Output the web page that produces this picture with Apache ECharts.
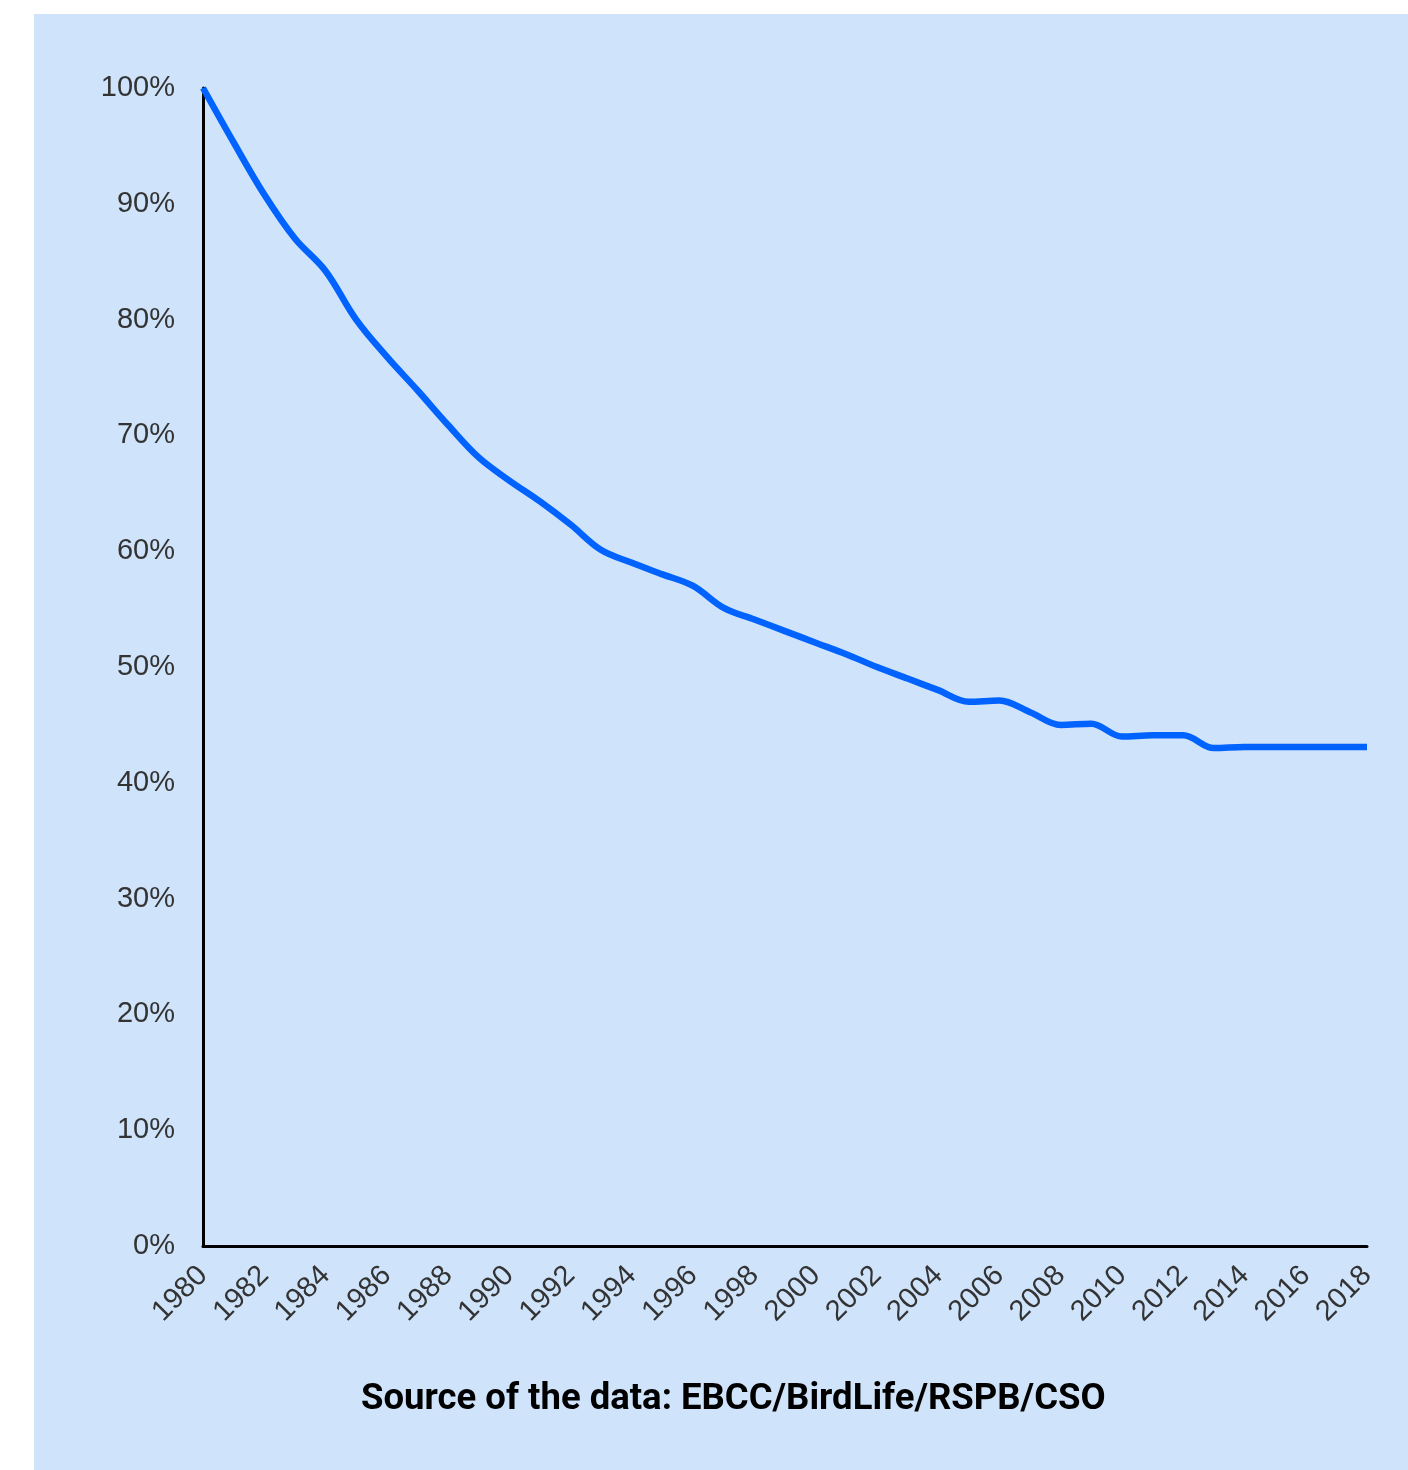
<!DOCTYPE html>
<html>
<head>
<meta charset="utf-8">
<script src="https://cdn.jsdelivr.net/npm/echarts@6/dist/echarts.min.js"></script>
<style>
  html, body { margin: 0; padding: 0; background: #ffffff; }
  #wrap { position: absolute; left: 34px; top: 14px; width: 1374px; height: 1456px; background: #cfe3fa; }
  #chart { width: 1374px; height: 1456px; }
</style>
</head>
<body>
<div id="wrap"><div id="chart"></div></div>
<script>
const years = ['1980','1981','1982','1983','1984','1985','1986','1987','1988','1989',
  '1990','1991','1992','1993','1994','1995','1996','1997','1998','1999',
  '2000','2001','2002','2003','2004','2005','2006','2007','2008','2009',
  '2010','2011','2012','2013','2014','2015','2016','2017','2018'];
const values = [100, 95.3, 90.8, 87.0, 84.2, 80.0, 76.8, 73.9, 70.9, 68.1,
  66.1, 64.3, 62.3, 60.1, 59.0, 58.0, 57.0, 55.1, 54.1, 53.1,
  52.1, 51.1, 50.0, 49.0, 48.0, 47.0, 47.1, 46.1, 45.0, 45.1,
  44.0, 44.1, 44.1, 43.0, 43.1, 43.1, 43.1, 43.1, 43.1];
const sourceText = 'Source of the data: EBCC/BirdLife/RSPB/CSO';

const chart = echarts.init(document.getElementById('chart'));
chart.setOption({
  backgroundColor: 'transparent',
  animation: false,
  grid: { left: 169, right: 41, top: 74, bottom: 224, containLabel: false },
  xAxis: {
    type: 'category',
    data: years,
    boundaryGap: false,
    axisLine: { show: true, lineStyle: { color: '#000', width: 3 } },
    axisTick: { show: false },
    splitLine: { show: false },
    axisLabel: {
      interval: 1,
      rotate: 45,
      margin: 25,
      fontFamily: 'Liberation Sans, Arial, sans-serif',
      fontSize: 29,
      color: '#333'
    }
  },
  yAxis: {
    type: 'value',
    min: 0,
    max: 100,
    interval: 10,
    axisLine: { show: true, lineStyle: { color: '#000', width: 3 } },
    axisTick: { show: false },
    splitLine: { show: false },
    axisLabel: {
      formatter: '{value}%',
      margin: 28,
      fontFamily: 'Liberation Sans, Arial, sans-serif',
      fontSize: 29,
      color: '#333'
    }
  },
  series: [{
    type: 'line',
    data: values,
    smooth: 0.35,
    symbol: 'none',
    lineStyle: { color: '#0062ff', width: 6.5 }
  }],
  graphic: [{
    type: 'text',
    left: 327,
    top: 1367,
    style: {
      text: sourceText,
      fontFamily: 'Roboto, sans-serif',
      fontWeight: 'bold',
      fontSize: 36.5,
      fill: '#000'
    }
  }]
});
</script>
</body>
</html>
